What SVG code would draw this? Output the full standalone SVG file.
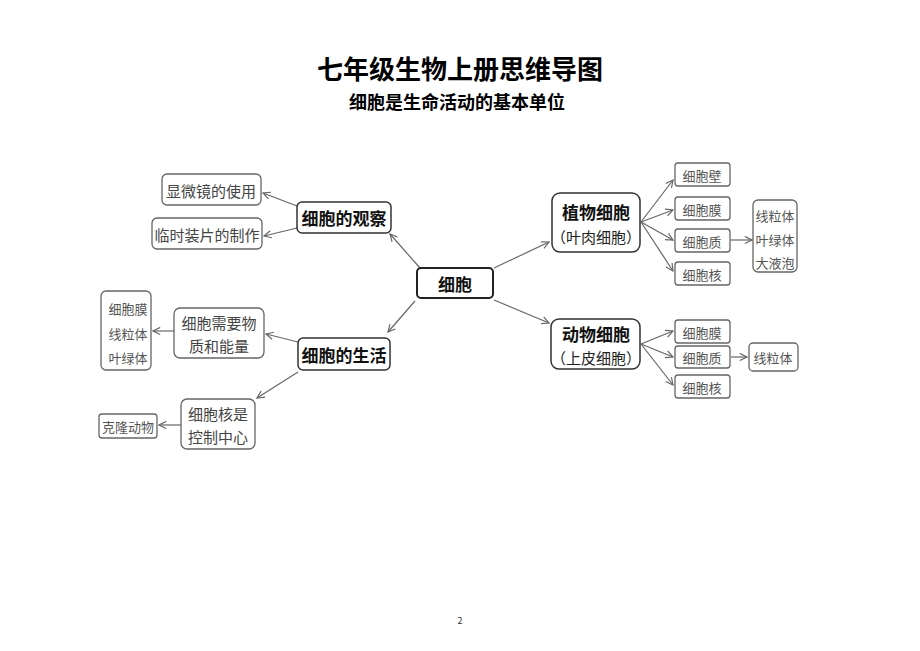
<svg xmlns="http://www.w3.org/2000/svg" width="920" height="651" viewBox="0 0 920 651">
<style>
text{font-family:"Noto Sans CJK SC","Liberation Sans",sans-serif;text-anchor:middle;dominant-baseline:central}
.t{font-weight:bold;font-size:26px;fill:#000}
.s{font-weight:bold;font-size:18px;fill:#000}
.b{fill:#fff;stroke:#333;stroke-width:1.5}
.bc{fill:#fff;stroke:#222;stroke-width:2}
.m{font-weight:bold;font-size:17px;fill:#111}
.n{font-size:15px;fill:#444}
.l{fill:#fff;stroke:#666;stroke-width:1.3}
.sm{font-size:13px;fill:#555}
.c{stroke:#666;stroke-width:1.2;fill:none;marker-end:url(#a)}
</style>
<defs><marker id="a" viewBox="0 0 10 10" refX="9" refY="5" markerWidth="9" markerHeight="9" orient="auto" markerUnits="userSpaceOnUse"><path d="M1,1 L9,5 L1,9" fill="none" stroke="#666" stroke-width="1.3"/></marker></defs>
<rect width="920" height="651" fill="#fff"/>
<text class="t" x="460" y="67">七年级生物上册思维导图</text>
<text class="s" x="457" y="101">细胞是生命活动的基本单位</text>
<g id="connectors">
<path class="c" d="M420,268 L390,234"/>
<path class="c" d="M415,301 L388,332"/>
<path class="c" d="M494,268 L549,242"/>
<path class="c" d="M494,300 L549,323"/>
<path class="c" d="M297,206 L263,193"/>
<path class="c" d="M297,228 L264,236"/>
<path class="c" d="M298,342 L266,334"/>
<path class="c" d="M298,372 L257,398"/>
<path class="c" d="M174,331 L153,331"/>
<path class="c" d="M181,425 L159,425"/>
<path class="c" d="M641,222 L673,180"/>
<path class="c" d="M641,222 L673,210"/>
<path class="c" d="M641,222 L673,240"/>
<path class="c" d="M641,222 L673,271"/>
<path class="c" d="M731,240 L752,240"/>
<path class="c" d="M641,344 L673,331"/>
<path class="c" d="M641,344 L673,357"/>
<path class="c" d="M641,344 L673,385"/>
<path class="c" d="M731,357 L747,357"/>
</g>
<g id="center"><rect class="bc" x="417" y="268" width="76" height="30" rx="4"/><text class="m" x="455" y="283">细胞</text></g>
<g id="obs"><rect class="b" x="297" y="202" width="94" height="31" rx="5"/><text class="m" x="344" y="217">细胞的观察</text></g>
<g id="micro"><rect class="l" x="162" y="174" width="99" height="31" rx="5"/><text class="n" x="211" y="190">显微镜的使用</text></g>
<g id="slide"><rect class="l" x="152" y="218" width="110" height="31" rx="5"/><text class="n" x="207" y="234">临时装片的制作</text></g>
<g id="life"><rect class="b" x="298" y="338" width="92" height="32" rx="5"/><text class="m" x="344" y="354">细胞的生活</text></g>
<g id="need"><rect class="l" x="174" y="308" width="90" height="50" rx="6"/><text class="n" x="219" y="322">细胞需要物</text><text class="n" x="219" y="345">质和能量</text></g>
<g id="org1"><rect class="l" x="101" y="291" width="50" height="79" rx="5"/><text class="sm" x="128" y="308">细胞膜</text><text class="sm" x="128" y="333">线粒体</text><text class="sm" x="128" y="357">叶绿体</text></g>
<g id="nuc"><rect class="l" x="181" y="399" width="74" height="50" rx="6"/><text class="n" x="218" y="413">细胞核是</text><text class="n" x="218" y="436">控制中心</text></g>
<g id="clone"><rect class="l" x="99" y="414" width="58" height="24" rx="3"/><text class="sm" x="128" y="426">克隆动物</text></g>
<g id="plant"><rect class="b" x="552" y="193" width="88" height="59" rx="8"/><text class="m" x="596" y="211">植物细胞</text><text class="n" x="596" y="236" style="fill:#222">（叶肉细胞）</text></g>
<g id="p1"><rect class="l" x="675" y="163" width="55" height="23" rx="3"/><text class="sm" x="702" y="175">细胞壁</text></g>
<g id="p2"><rect class="l" x="675" y="197" width="55" height="23" rx="3"/><text class="sm" x="702" y="209">细胞膜</text></g>
<g id="p3"><rect class="l" x="675" y="229" width="55" height="23" rx="3"/><text class="sm" x="702" y="241">细胞质</text></g>
<g id="p4"><rect class="l" x="675" y="262" width="55" height="23" rx="3"/><text class="sm" x="702" y="274">细胞核</text></g>
<g id="porg"><rect class="l" x="753" y="200" width="44" height="72" rx="5"/><text class="sm" x="775" y="215">线粒体</text><text class="sm" x="775" y="239">叶绿体</text><text class="sm" x="775" y="262">大液泡</text></g>
<g id="animal"><rect class="b" x="551" y="319" width="89" height="50" rx="8"/><text class="m" x="596" y="333">动物细胞</text><text class="n" x="596" y="357" style="fill:#222">（上皮细胞）</text></g>
<g id="a1"><rect class="l" x="675" y="320" width="55" height="23" rx="3"/><text class="sm" x="702" y="332">细胞膜</text></g>
<g id="a2"><rect class="l" x="675" y="346" width="55" height="22" rx="3"/><text class="sm" x="702" y="357">细胞质</text></g>
<g id="a3"><rect class="l" x="675" y="375" width="55" height="23" rx="3"/><text class="sm" x="702" y="387">细胞核</text></g>
<g id="amito"><rect class="l" x="749" y="343" width="49" height="28" rx="4"/><text class="sm" x="773" y="357">线粒体</text></g>
<text x="460" y="620" style="font-size:9px;fill:#333">2</text>
</svg>
